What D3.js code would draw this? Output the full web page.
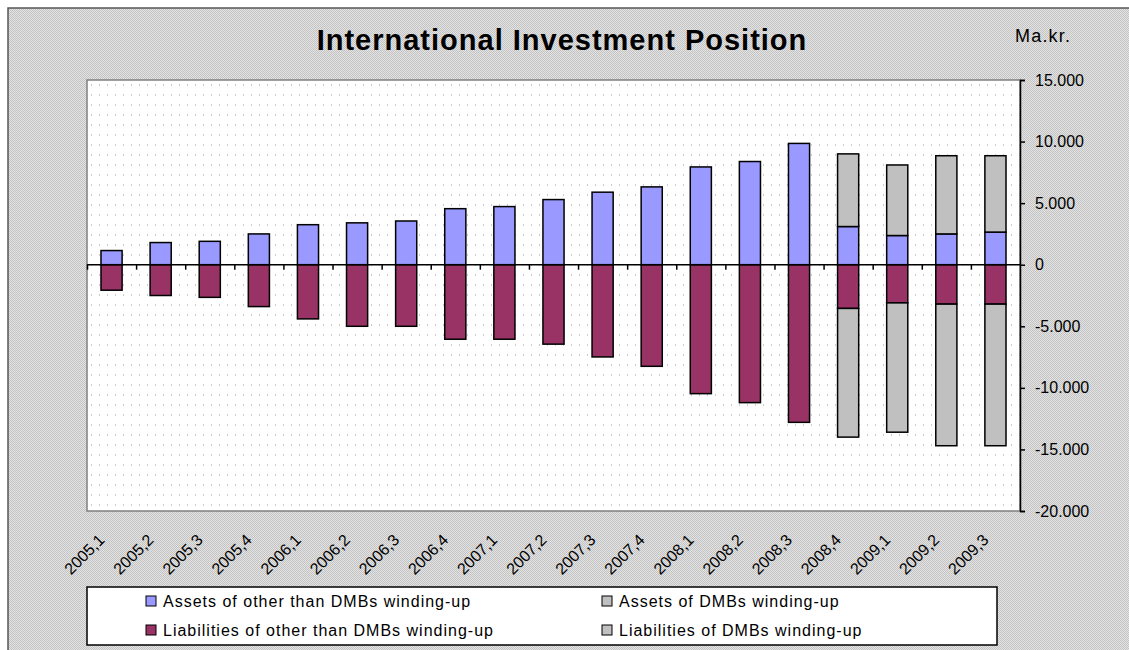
<!DOCTYPE html>
<html>
<head>
<meta charset="utf-8">
<script src="https://cdn.jsdelivr.net/npm/d3@7"></script>
<style>
  body { margin: 0; background: #fff; }
  svg { display: block; font-family: "Liberation Sans", Arial, sans-serif; }
</style>
</head>
<body>
<div id="chart"></div>
<script>
// quarters
var categories = ["2005,1", "2005,2", "2005,3", "2005,4", "2006,1", "2006,2", "2006,3", "2006,4",
    "2007,1", "2007,2", "2007,3", "2007,4", "2008,1", "2008,2", "2008,3", "2008,4",
    "2009,1", "2009,2", "2009,3"];

// Ma.kr.
var assetsOther = [1150, 1800, 1900, 2500, 3250, 3400, 3550, 4550, 4720, 5290, 5890, 6320,
    7940, 8380, 9850, 3100, 2370, 2500, 2650];
var liabOther = [-2070, -2500, -2650, -3400, -4400, -5000, -5000, -6050, -6050, -6450, -7490, -8250,
    -10470, -11200, -12800, -3550, -3100, -3200, -3200];
var assetsDMB = [0, 0, 0, 0, 0, 0, 0, 0, 0, 0, 0, 0, 0, 0, 0, 5900, 5730, 6350, 6200];
var liabDMB = [0, 0, 0, 0, 0, 0, 0, 0, 0, 0, 0, 0, 0, 0, 0, -10450, -10500, -11500, -11500];

var yTicks = [-20000, -15000, -10000, -5000, 0, 5000, 10000, 15000];

var seriesNames = ["Assets of other than DMBs winding-up", "Liabilities of other than DMBs winding-up",
    "Assets of DMBs winding-up", "Liabilities of DMBs winding-up"];
var seriesKeys = ["assetsOther", "liabOther", "assetsDMB", "liabDMB"];
var colors = ["#9999ff", "#993366", "#c0c0c0", "#c0c0c0"];

var W = 1129, H = 650;
var plot = { left: 87, top: 80, right: 1020, bottom: 511 };

var svg = d3.select("#chart").append("svg")
    .attr("width", W)
    .attr("height", H);

var defs = svg.append("defs");
// grey dithered chart area
var p1 = defs.append("pattern").attr("id", "dither")
    .attr("width", 2).attr("height", 2).attr("patternUnits", "userSpaceOnUse");
p1.append("rect").attr("width", 2).attr("height", 2).attr("fill", "#e4e4e4");
p1.append("rect").attr("width", 1).attr("height", 1).attr("fill", "#c2c2c2");
p1.append("rect").attr("x", 1).attr("y", 1).attr("width", 1).attr("height", 1).attr("fill", "#c2c2c2");
// dotted plot area
var p2 = defs.append("pattern").attr("id", "dots")
    .attr("width", 8).attr("height", 10).attr("patternUnits", "userSpaceOnUse");
p2.append("rect").attr("width", 8).attr("height", 10).attr("fill", "#fff");
p2.append("rect").attr("x", 3).attr("y", 4).attr("width", 1).attr("height", 2).attr("fill", "#cacaca");

// chart area
svg.append("rect")
    .attr("x", 8).attr("y", 8)
    .attr("width", W + 20).attr("height", H + 20)
    .attr("fill", "url(#dither)")
    .attr("stroke", "#555")
    .attr("stroke-width", 1.5);

// plot area
svg.append("rect")
    .attr("x", plot.left).attr("y", plot.top)
    .attr("width", plot.right - plot.left).attr("height", plot.bottom - plot.top)
    .attr("fill", "url(#dots)")
    .attr("stroke", "#808080")
    .attr("stroke-width", 1.5);

var x = d3.scaleBand()
    .domain(categories)
    .range([plot.left, plot.right])
    .paddingInner(0.57)
    .paddingOuter(0.285);

var y = d3.scaleLinear()
    .domain([-20000, 15000])
    .range([plot.bottom, plot.top]);

var rows = categories.map(function (c, i) {
    return { cat: c, assetsOther: assetsOther[i], liabOther: liabOther[i], assetsDMB: assetsDMB[i], liabDMB: liabDMB[i] };
});

var stacked = d3.stack()
    .keys(seriesKeys)
    .offset(d3.stackOffsetDiverging)(rows);

svg.append("g").selectAll("g")
    .data(stacked)
    .enter().append("g")
    .attr("fill", function (d, i) { return colors[i]; })
    .selectAll("rect")
    .data(function (d) { return d.filter(function (e) { return e[1] - e[0] !== 0; }); })
    .enter().append("rect")
    .attr("x", function (d) { return x(d.data.cat); })
    .attr("width", x.bandwidth())
    .attr("y", function (d) { return y(Math.max(d[0], d[1])); })
    .attr("height", function (d) { return Math.abs(y(d[0]) - y(d[1])); })
    .attr("stroke", "#000")
    .attr("stroke-width", 1.5);

// zero line with category ticks at band boundaries
var y0 = y(0);
svg.append("line")
    .attr("x1", plot.left).attr("x2", plot.right)
    .attr("y1", y0).attr("y2", y0)
    .attr("stroke", "#000").attr("stroke-width", 1.5);
svg.append("g").selectAll("line")
    .data(categories)
    .enter().append("line")
    .attr("x1", function (d) { return x(d) - x.step() * x.paddingInner() / 2 + 0.5; })
    .attr("x2", function (d) { return x(d) - x.step() * x.paddingInner() / 2 + 0.5; })
    .attr("y1", y0).attr("y2", y0 + 5)
    .attr("stroke", "#000").attr("stroke-width", 1.5);

// category labels
svg.append("g").selectAll("text")
    .data(categories)
    .enter().append("text")
    .attr("transform", function (d) {
        return "translate(" + (x(d) + x.bandwidth() / 2 - 6) + "," + 541 + ") rotate(-45)";
    })
    .attr("text-anchor", "end")
    .attr("font-size", 16)
    .attr("fill", "#000")
    .text(function (d) { return d; });

// right value axis
var locale = d3.formatLocale({ decimal: ",", thousands: ".", grouping: [3], currency: ["", ""], minus: "-" });
var fmt = locale.format(",d");

var yAxis = svg.append("g")
    .attr("transform", "translate(" + plot.right + ",0)")
    .call(d3.axisRight(y).tickValues(yTicks).tickSize(5).tickPadding(10).tickFormat(fmt));
yAxis.select(".domain").attr("stroke", "#000").attr("stroke-width", 1.5);
yAxis.selectAll(".tick line").attr("stroke", "#000").attr("stroke-width", 1.5);
yAxis.selectAll("text")
    .attr("font-family", "Liberation Sans, Arial, sans-serif")
    .attr("font-size", 16)
    .attr("fill", "#000");

// title and unit
svg.append("text")
    .attr("x", 562).attr("y", 50)
    .attr("text-anchor", "middle")
    .attr("font-size", 29)
    .attr("font-weight", "bold")
    .attr("letter-spacing", 1)
    .text("International Investment Position");

svg.append("text")
    .attr("x", 1015).attr("y", 42)
    .attr("font-size", 18)
    .attr("letter-spacing", 1.2)
    .text("Ma.kr.");

// legend
var legend = svg.append("g");
legend.append("rect")
    .attr("x", 87).attr("y", 587)
    .attr("width", 910).attr("height", 58)
    .attr("fill", "#fff")
    .attr("stroke", "#000")
    .attr("stroke-width", 1.5);

var legPos = [[146, 601], [146, 630], [602, 601], [602, 630]];
var items = legend.selectAll(".item")
    .data(seriesNames)
    .enter().append("g")
    .attr("class", "item")
    .attr("transform", function (d, i) { return "translate(" + legPos[i][0] + "," + legPos[i][1] + ")"; });
items.append("rect")
    .attr("x", 0).attr("y", -5)
    .attr("width", 10).attr("height", 10)
    .attr("fill", function (d, i) { return colors[i]; })
    .attr("stroke", "#000");
items.append("text")
    .attr("x", 17).attr("y", 6)
    .attr("font-size", 16)
    .attr("letter-spacing", 1)
    .text(function (d) { return d; });
</script>
</body>
</html>
